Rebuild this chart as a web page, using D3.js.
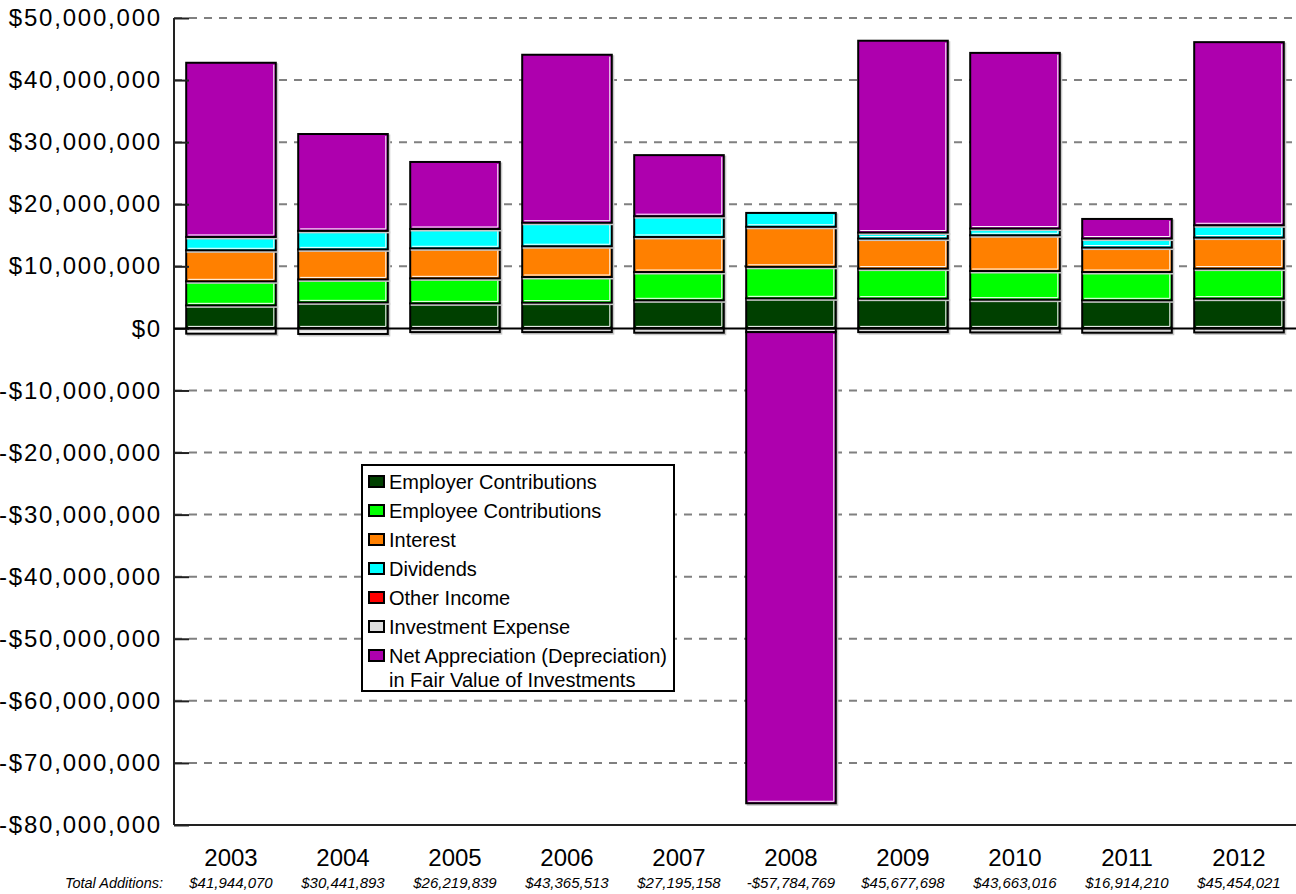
<!DOCTYPE html>
<html><head><meta charset="utf-8">
<script src="https://cdn.jsdelivr.net/npm/d3@7/dist/d3.min.js"></script>
<style>
body{margin:0;background:#fff}
svg{display:block}
text{font-family:"Liberation Sans",Arial,sans-serif;fill:#000}
</style>
</head><body>
<svg id="chart" width="1296" height="894"></svg>
<script>
// ---------------- data ----------------
const years = ["2003","2004","2005","2006","2007","2008","2009","2010","2011","2012"];
const employerContributions = [3710000, 4190000, 4030000, 4150000, 4520000, 4840000, 4790000, 4630000, 4520000, 4790000];
const employeeContributions = [3870000, 3700000, 4030000, 4130000, 4560000, 5080000, 4840000, 4610000, 4560000, 4840000];
const interest              = [5000000, 4840000, 4840000, 4950000, 5650000, 6450000, 4840000, 5760000, 3940000, 5000000];
const dividends             = [2150000, 2980000, 3110000, 3790000, 3340000, 2230000,  970000, 1080000, 1450000, 1980000];
const otherIncome           = [0, 0, 0, 0, 0, 0, 0, 0, 0, 0];
const investmentExpense     = [-850000, -900000, -600000, -600000, -700000, -600000, -600000, -650000, -700000, -650000];
const netAppreciation       = [28060000, 15600000, 10800000, 27060000, 9840000, -75900000, 30900000, 28300000, 3160000, 29500000];
const totalAdditions        = [41944070, 30441893, 26219839, 43365513, 27195158, -57784769, 45677698, 43663016, 16914210, 45454021];

const seriesKeys   = ["employer","employee","interest","dividends","other","expense","appreciation"];
const seriesLabels = [["Employer Contributions"],["Employee Contributions"],["Interest"],["Dividends"],["Other Income"],["Investment Expense"],["Net Appreciation (Depreciation)","in Fair Value of Investments"]];
const seriesColors = ["#004000","#00FF00","#FF8000","#00FFFF","#FF0000","#DDDDDD","#AE00AE"];
const yTickValues  = [-80e6,-70e6,-60e6,-50e6,-40e6,-30e6,-20e6,-10e6,0,10e6,20e6,30e6,40e6,50e6];
const totalLabel   = "Total Additions:";

// ---------------- layout ----------------
const svg = d3.select("#chart");
const plotLeft = 174, plotRight = 1296, plotTop = 18, plotBottom = 825;

const table = years.map((yr,i)=>({
  year: yr,
  employer: employerContributions[i],
  employee: employeeContributions[i],
  interest: interest[i],
  dividends: dividends[i],
  other: otherIncome[i],
  expense: investmentExpense[i],
  appreciation: netAppreciation[i]
}));

const x = d3.scaleBand().domain(years).range([175, 1295]).paddingInner(0.2).paddingOuter(0.1);
const y = d3.scaleLinear().domain([-80e6, 50e6]).range([plotBottom, plotTop]);
const color = d3.scaleOrdinal().domain(seriesKeys).range(seriesColors);

const fmtMoney = v => (v < 0 ? "-" : "") + "$" + d3.format(",")(Math.abs(v));

// gridlines
svg.append("g").selectAll("line")
  .data(yTickValues.filter(v => v !== 0 && v !== -80e6))
  .join("line")
  .attr("x1", plotLeft).attr("x2", plotRight)
  .attr("y1", d => y(d)).attr("y2", d => y(d))
  .attr("stroke", "#808080").attr("stroke-width", 2)
  .attr("stroke-dasharray", "8,7");

// stacked bars
const stacked = d3.stack().keys(seriesKeys).offset(d3.stackOffsetDiverging)(table);
const bw = x.bandwidth();
const layers = svg.append("g").selectAll("g").data(stacked).join("g");
layers.each(function(layer){
  const g = d3.select(this);
  const segs = layer.filter(d => d[1] - d[0] !== 0);
  const segG = g.selectAll("g").data(segs).join("g");
  segG.append("rect")
    .attr("x", d => x(d.data.year) + 1.5)
    .attr("y", d => y(Math.max(d[0], d[1])) + 1.5)
    .attr("width", bw)
    .attr("height", d => Math.abs(y(d[0]) - y(d[1])))
    .attr("fill", "none").attr("stroke", "#c8c8c8").attr("stroke-width", 2);
  segG.append("rect")
    .attr("x", d => x(d.data.year))
    .attr("y", d => y(Math.max(d[0], d[1])))
    .attr("width", bw)
    .attr("height", d => Math.abs(y(d[0]) - y(d[1])))
    .attr("fill", color(layer.key))
    .attr("stroke", "#000").attr("stroke-width", 2);
  segG.append("path")
    .attr("d", d => {
      const x0 = x(d.data.year), x1 = x0 + bw;
      const yt = y(Math.max(d[0], d[1])), yb = y(Math.min(d[0], d[1]));
      if (yb - yt < 5) return null;
      return `M${x1-2},${yt+2}V${yb-2}H${x0+2}`;
    })
    .attr("fill", "none").attr("stroke", "#fff").attr("stroke-width", 1);
});

// y axis (ticks pointing inward, labels left)
const yAxis = d3.axisLeft(y).tickValues(yTickValues).tickFormat(fmtMoney).tickSize(-15).tickPadding(12);
const ax = svg.append("g").attr("transform", `translate(${plotLeft},0)`).call(yAxis);
ax.select(".domain").remove();
ax.selectAll(".tick line").attr("stroke", "#222").attr("stroke-width", 2);
ax.selectAll(".tick text").attr("font-size", 24).attr("letter-spacing", "1.8px")
  .attr("font-family", "'Liberation Sans', Arial, sans-serif").attr("fill", "#000");

// axis frame lines
svg.append("line").attr("x1", plotLeft).attr("x2", plotLeft).attr("y1", plotTop).attr("y2", plotBottom)
  .attr("stroke", "#222").attr("stroke-width", 2);
svg.append("line").attr("x1", plotLeft).attr("x2", plotRight).attr("y1", plotBottom).attr("y2", plotBottom)
  .attr("stroke", "#222").attr("stroke-width", 2);
svg.append("line").attr("x1", plotLeft).attr("x2", plotRight).attr("y1", y(0)).attr("y2", y(0))
  .attr("stroke", "#000").attr("stroke-width", 2);

// category labels
svg.append("g").selectAll("text").data(years).join("text")
  .attr("x", d => x(d) + bw / 2).attr("y", 866)
  .attr("text-anchor", "middle").attr("font-size", 24).text(d => d);

// totals
svg.append("text").attr("x", 163).attr("y", 888).attr("text-anchor", "end")
  .attr("font-size", 14.5).attr("font-style", "italic").text(totalLabel);
svg.append("g").selectAll("text").data(totalAdditions).join("text")
  .attr("x", (d,i) => x(years[i]) + bw / 2).attr("y", 888)
  .attr("text-anchor", "middle").attr("font-size", 15).attr("font-style", "italic")
  .text(d => fmtMoney(d));

// legend
const lg = svg.append("g");
lg.append("rect").attr("x", 362).attr("y", 465).attr("width", 312).attr("height", 226)
  .attr("fill", "#fff").attr("stroke", "#000").attr("stroke-width", 2);
const rowH = 29;
seriesKeys.forEach((k, i) => {
  const cy = 481.5 + i * rowH;
  lg.append("rect").attr("x", 369).attr("y", cy - 5.5).attr("width", 15).attr("height", 11)
    .attr("fill", color(k)).attr("stroke", "#000").attr("stroke-width", 2);
  seriesLabels[i].forEach((line, j) => {
    lg.append("text").attr("x", 389).attr("y", cy + j * 24).attr("dy", "0.35em")
      .attr("font-size", 20).text(line);
  });
});
</script>
</body></html>
